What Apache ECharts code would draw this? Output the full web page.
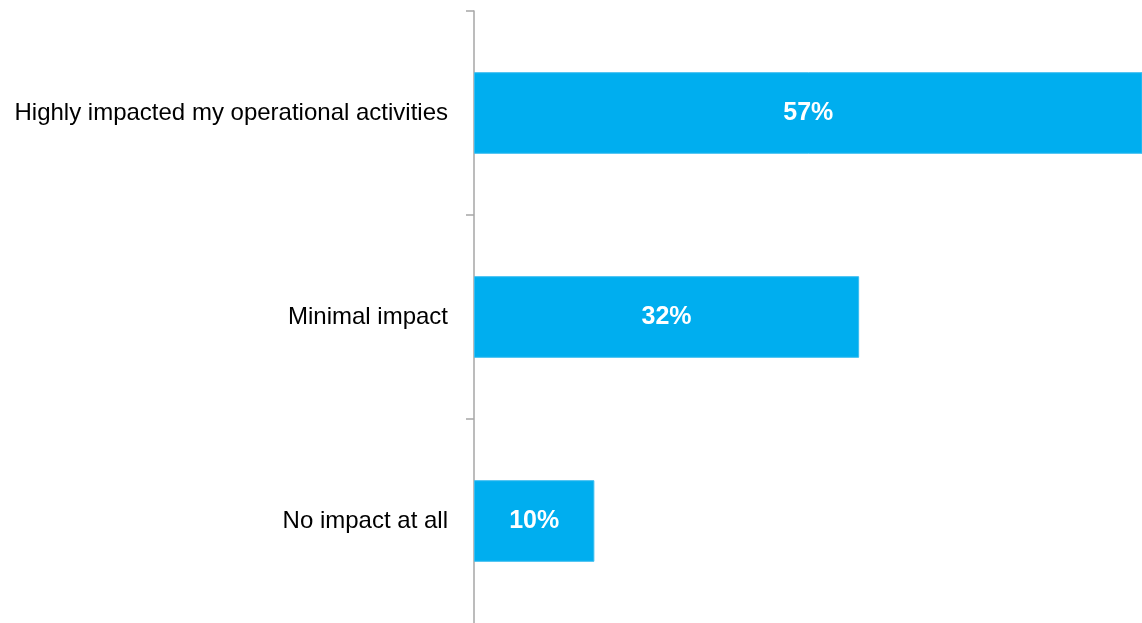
<!DOCTYPE html>
<html>
<head>
<meta charset="utf-8">
<script src="https://cdn.jsdelivr.net/npm/echarts@6/dist/echarts.min.js"></script>
<style>
  html, body { margin: 0; padding: 0; background: #ffffff; }
  #chart { width: 1142px; height: 623px; }
</style>
</head>
<body>
<div id="chart"></div>
<script>
// Survey responses: impact on operational activities (share of respondents, %)
const categories = [
  'No impact at all',
  'Minimal impact',
  'Highly impacted my operational activities'
];
const shares = [10, 32, 57];

const axisMax = 55.5;
const barColor = '#00AEEF';
const labelFont = '"Liberation Sans Narrow", "Arial Narrow", "Liberation Sans", Arial, sans-serif';

const chart = echarts.init(document.getElementById('chart'), null, { renderer: 'canvas' });

chart.setOption({
  animation: false,
  backgroundColor: '#ffffff',
  grid: { left: 474, right: 0, top: 11, bottom: 0, containLabel: false },
  xAxis: {
    type: 'value',
    min: 0,
    max: axisMax,
    show: false
  },
  yAxis: {
    type: 'category',
    data: categories,
    axisLine: { show: true, lineStyle: { color: '#a6a6a6', width: 1.5 } },
    axisTick: {
      show: true,
      length: 8,
      // the lowest boundary tick sits below the plot edge
      interval: function (index) { return index > 0; },
      lineStyle: { color: '#a6a6a6', width: 1.5 }
    },
    axisLabel: {
      margin: 26,
      color: '#000000',
      fontFamily: labelFont,
      fontSize: 24
    },
    splitLine: { show: false }
  },
  series: [{
    type: 'bar',
    data: shares,
    barCategoryGap: '60%',
    clip: true,
    itemStyle: { color: barColor, borderColor: '#3cbdf0', borderWidth: 1 },
    label: {
      show: true,
      position: 'inside',
      formatter: '{c}%',
      color: '#ffffff',
      fontFamily: labelFont,
      fontWeight: 'bold',
      fontSize: 25
    }
  }]
});
</script>
</body>
</html>
